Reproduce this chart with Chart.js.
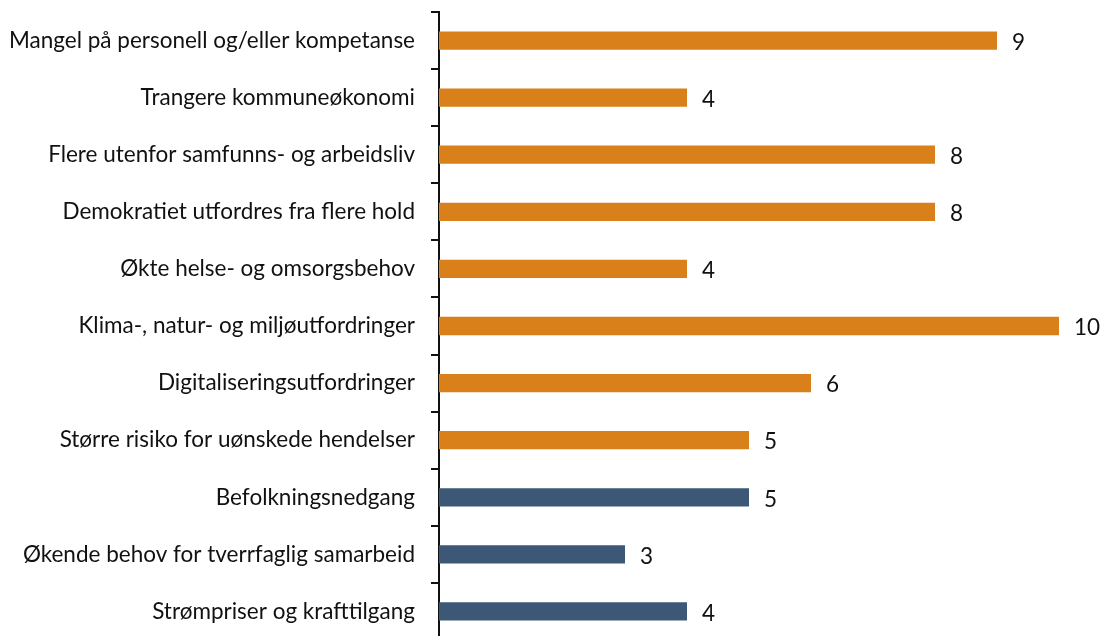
<!DOCTYPE html>
<html>
<head>
<meta charset="utf-8">
<script src="https://cdn.jsdelivr.net/npm/chart.js@4/dist/chart.umd.min.js"></script>
<style>
  html, body { margin: 0; padding: 0; background: #fff; overflow: hidden; }
  #wrap { width: 1105px; height: 642px; }
</style>
</head>
<body>
<div id="wrap"><canvas id="myChart"></canvas></div>
<script>
const categories = [
  'Mangel på personell og/eller kompetanse',
  'Trangere kommuneøkonomi',
  'Flere utenfor samfunns- og arbeidsliv',
  'Demokratiet utfordres fra flere hold',
  'Økte helse- og omsorgsbehov',
  'Klima-, natur- og miljøutfordringer',
  'Digitaliseringsutfordringer',
  'Større risiko for uønskede hendelser',
  'Befolkningsnedgang',
  'Økende behov for tverrfaglig samarbeid',
  'Strømpriser og krafttilgang'
]
const values = [9, 4, 8, 8, 4, 10, 6, 5, 5, 3, 4]
const groups = ['A', 'A', 'A', 'A', 'A', 'A', 'A', 'A', 'B', 'B', 'B']

const groupColor = { A: '#D9801A', B: '#3D5877' }
const fontFamily = 'Lato, "Open Sans", sans-serif'
const fontSize = 22.5

Chart.defaults.font.family = fontFamily
Chart.defaults.font.size = fontSize
Chart.defaults.color = '#111'

// values written to the right of each bar
const valueLabels = {
  id: 'valueLabels',
  afterDatasetsDraw(chart) {
    const ctx = chart.ctx
    const meta = chart.getDatasetMeta(0)
    ctx.save()
    ctx.font = fontSize + 'px ' + fontFamily
    ctx.fillStyle = '#111'
    ctx.textAlign = 'left'
    ctx.textBaseline = 'middle'
    meta.data.forEach((bar, i) => {
      ctx.fillText(values[i], bar.x + 15, bar.y + 2)
    })
    ctx.restore()
  }
}

const ctx = document.getElementById('myChart').getContext('2d')
new Chart(ctx, {
  type: 'bar',
  data: {
    labels: categories,
    datasets: [{
      data: values,
      backgroundColor: groups.map(g => groupColor[g]),
      barPercentage: 0.32,
      categoryPercentage: 1
    }]
  },
  options: {
    indexAxis: 'y',
    responsive: true,
    maintainAspectRatio: false,
    animation: false,
    layout: { padding: { top: 12, right: 15, bottom: 2, left: 0 } },
    scales: {
      x: {
        display: false,
        min: 0,
        max: 10.5
      },
      y: {
        afterFit: s => {
          s.width = 439
          s.paddingTop = 0
          s.paddingBottom = 0
        },
        border: { display: true, color: '#111', width: 2 },
        grid: {
          offset: true,
          drawOnChartArea: false,
          drawTicks: true,
          tickLength: 8,
          color: '#111',
          lineWidth: 2
        },
        ticks: {
          padding: 16,
          color: '#111',
          font: { size: fontSize }
        }
      }
    },
    plugins: {
      legend: { display: false },
      tooltip: { enabled: false }
    }
  },
  plugins: [valueLabels]
})
</script>
</body>
</html>
